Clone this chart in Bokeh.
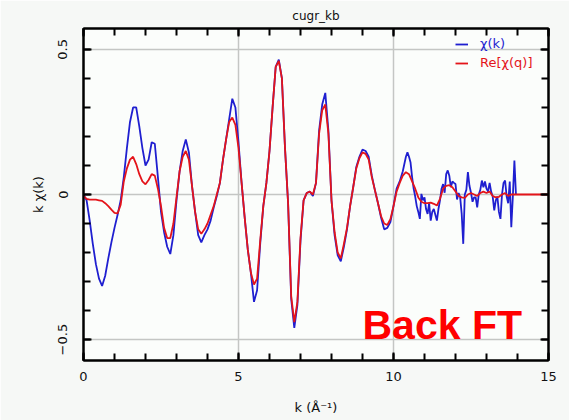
import numpy as np
from bokeh.plotting import figure
from bokeh.models import (Range1d, FixedTicker, LinearAxis, Legend, LegendItem, Label)
from bokeh.embed import file_html
from bokeh.resources import INLINE

# chi(k) on a 0.1 grid up to 10.4, then a finer 0.05 grid through the noisy tail
k_main = np.round(np.arange(0.0, 10.41, 0.1), 2)
chi_main = [
    0.0, -0.02, -0.09, -0.17, -0.24, -0.29, -0.315, -0.28, -0.22, -0.165,
    -0.115, -0.07, -0.02, 0.06, 0.16, 0.25, 0.30, 0.30, 0.235, 0.16,
    0.10, 0.12, 0.18, 0.175, 0.06, -0.06, -0.13, -0.18, -0.205, -0.14,
    -0.02, 0.08, 0.15, 0.19, 0.145, 0.03, -0.06, -0.14, -0.165, -0.14,
    -0.12, -0.09, -0.045, -0.005, 0.04, 0.12, 0.19, 0.26, 0.33, 0.30,
    0.18, 0.04, -0.08, -0.19, -0.27, -0.37, -0.33, -0.17, -0.04, 0.04,
    0.15, 0.30, 0.44, 0.465, 0.40, 0.16, -0.03, -0.36, -0.46, -0.38,
    -0.16, -0.02, 0.005, 0.01, -0.005, 0.04, 0.22, 0.31, 0.35, 0.22,
    -0.02, -0.14, -0.21, -0.23, -0.18, -0.12, -0.04, 0.025, 0.095, 0.13,
    0.155, 0.15, 0.13, 0.065, 0.015, -0.03, -0.08, -0.12, -0.115, -0.095,
    -0.04, 0.02, 0.045, 0.08, 0.13,
]
k_tail = np.round(np.arange(10.45, 13.96, 0.05), 2)
chi_tail = [
    0.145, 0.13, 0.11, 0.06, 0.02, -0.007, -0.04, -0.06, -0.084, 0.002,
    -0.02, -0.01, -0.05, -0.067, -0.03, -0.09, -0.06, -0.05, -0.07, -0.09,
    -0.05, -0.02, 0.02, 0.036, 0.006, 0.07, 0.083, 0.065, 0.025, 0.045,
    0.04, 0.036, -0.017, 0.005, -0.009, -0.067, -0.17, 0.0, 0.016, 0.077,
    0.03, 0.006, -0.025, -0.01, -0.01, -0.044, 0.0, 0.016, 0.048, 0.025,
    0.045, 0.02, 0.01, 0.04, 0.01, -0.007, -0.055, -0.02, -0.007, -0.06,
    -0.084, 0.0, 0.04, 0.048, -0.007, -0.03, 0.045, -0.113, -0.007, 0.117,
    0.0,
]

# Re[chi(q)] back-transform on a 0.1 grid up to 13.9, zero out to 15
k_re = list(np.round(np.arange(0.0, 13.91, 0.1), 2)) + [15.0]
re_chi = [
    -0.005, -0.015, -0.018, -0.018, -0.018, -0.02, -0.022, -0.03, -0.04, -0.052,
    -0.063, -0.065, -0.035, 0.045, 0.09, 0.12, 0.13, 0.105, 0.07, 0.045,
    0.035, 0.05, 0.07, 0.065, 0.02, -0.04, -0.115, -0.15, -0.15, -0.10,
    -0.01, 0.08, 0.13, 0.15, 0.12, 0.03, -0.06, -0.12, -0.135, -0.12,
    -0.10, -0.07, -0.04, 0.0, 0.04, 0.12, 0.19, 0.25, 0.265, 0.24,
    0.16, 0.04, -0.08, -0.19, -0.27, -0.31, -0.29, -0.16, -0.04, 0.04,
    0.15, 0.30, 0.44, 0.46, 0.40, 0.16, -0.03, -0.35, -0.44, -0.37,
    -0.15, -0.02, 0.005, 0.01, 0.0, 0.04, 0.21, 0.29, 0.31, 0.21,
    -0.02, -0.13, -0.20, -0.22, -0.17, -0.115, -0.04, 0.025, 0.09, 0.125,
    0.145, 0.14, 0.12, 0.06, 0.015, -0.03, -0.075, -0.10, -0.105, -0.085,
    -0.04, 0.01, 0.04, 0.065, 0.077, 0.07, 0.045, 0.02, -0.01, -0.025,
    -0.03, -0.03, -0.028, -0.032, -0.038, -0.015, 0.02, 0.03, 0.032, 0.025,
    0.01, -0.005, -0.01, -0.012, 0.0, 0.005, 0.0, -0.005, 0.005, 0.01,
    0.005, 0.01, -0.005, -0.01, -0.008, 0.0, 0.005, -0.005, 0.0, 0.0,
    0.0,
]

x_major = [0, 5, 10, 15]
x_minor = list(range(0, 16))
y_major = [-0.5, 0, 0.5]
y_minor = [round(v, 1) for v in np.arange(-0.5, 0.51, 0.1)]

BLUE = "#1f1fd0"
RED = "#e4141a"
FONT = "DejaVu Sans"

p = figure(width=569, height=420, output_backend="svg", toolbar_location=None,
           x_range=Range1d(0, 15), y_range=Range1d(-0.572, 0.572),
           min_border_left=83, min_border_right=21, min_border_top=28,
           min_border_bottom=60, title="cugr_kb",
           background_fill_color="#fbfdfb", border_fill_color="#f6f8f6")

p.title.align = "center"
p.title.text_font = FONT
p.title.text_font_size = "12px"
p.title.text_font_style = "normal"
p.title.text_color = "#111111"
p.title.standoff = 11

p.outline_line_color = "black"
p.outline_line_width = 2

def style_axis(ax, major, minor, show_labels):
    ax.ticker = FixedTicker(ticks=major, minor_ticks=minor)
    ax.axis_line_color = "black"
    ax.axis_line_width = 2
    ax.major_tick_in = 8
    ax.major_tick_out = 0
    ax.minor_tick_in = 7
    ax.minor_tick_out = 0
    ax.major_tick_line_width = 2
    ax.minor_tick_line_width = 2
    ax.major_tick_line_color = "black"
    ax.minor_tick_line_color = "black"
    ax.major_label_text_font = FONT
    ax.major_label_text_color = "#111111"
    ax.major_label_text_font_size = "13px"
    if not show_labels:
        # tick marks only on the opposite sides of the frame
        ax.major_label_overrides = {t: "" for t in major}
        ax.major_label_standoff = 0

xa = p.xaxis[0]
ya = p.yaxis[0]
style_axis(xa, x_major, x_minor, True)
style_axis(ya, y_major, y_minor, True)
xa.major_label_standoff = 11
ya.major_label_standoff = 16
ya.major_label_orientation = "vertical"
ya.major_label_overrides = {0: "0", 0.5: "0.5", -0.5: "\u22120.5"}

xa.axis_label = "k (\u00c5\u207b\u00b9)"
ya.axis_label = "k \u03c7(k)"
for ax in (xa, ya):
    ax.axis_label_text_font = FONT
    ax.axis_label_text_font_size = "13px"
    ax.axis_label_text_font_style = "normal"
    ax.axis_label_text_color = "#111111"
xa.axis_label_standoff = 16
ya.axis_label_standoff = 10

top = LinearAxis()
right = LinearAxis()
style_axis(top, x_major, x_minor, False)
style_axis(right, y_major, y_minor, False)
p.add_layout(top, "above")
p.add_layout(right, "right")

p.xgrid.ticker = FixedTicker(ticks=[5, 10])
p.ygrid.ticker = FixedTicker(ticks=y_major)
for g in (p.xgrid[0], p.ygrid[0]):
    g.grid_line_color = "#c4c6c4"
    g.grid_line_width = 1.5

k_chi = list(k_main) + list(k_tail)
chi = chi_main + chi_tail
r_blue = p.line(k_chi, chi, line_color=BLUE, line_width=1.8)
r_red = p.line(k_re, re_chi, line_color=RED, line_width=1.8)

leg_blue = Legend(items=[LegendItem(label="\u03c7(k)", renderers=[r_blue])],
                  location=(372, 309), label_text_color=BLUE)
leg_red = Legend(items=[LegendItem(label="Re[\u03c7(q)]", renderers=[r_red])],
                 location=(372, 290), label_text_color=RED)
for lg in (leg_blue, leg_red):
    lg.padding = 0
    lg.margin = 0
    lg.spacing = 0
    lg.glyph_width = 13
    lg.glyph_height = 14
    lg.label_height = 14
    lg.label_standoff = 12
    lg.label_text_font = FONT
    lg.label_text_font_size = "13px"
    lg.border_line_alpha = 0
    lg.background_fill_alpha = 0
    p.add_layout(lg)

p.add_layout(Label(x=9.0, y=-0.448, text="Back FT", text_color="#ff0000",
                   text_font="Liberation Sans", text_font_size="41px",
                   text_font_style="bold", text_baseline="alphabetic"))

open("out.html", "w").write(file_html(p, INLINE))
